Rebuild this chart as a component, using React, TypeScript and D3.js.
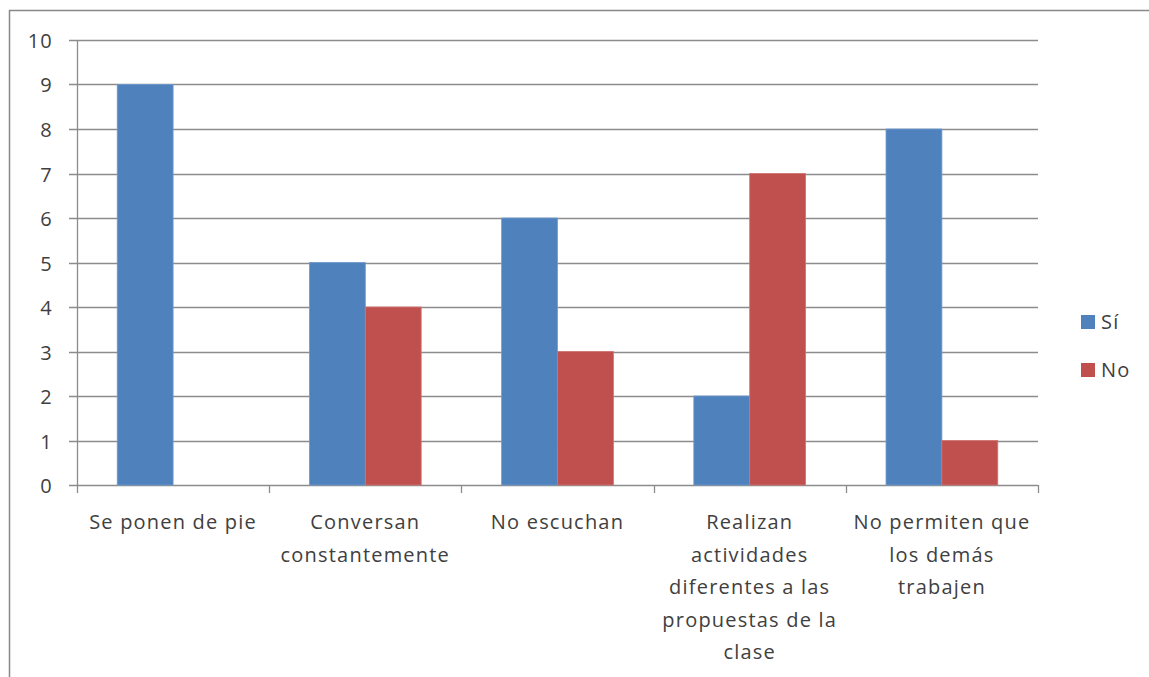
import { scaleBand, scaleLinear } from "d3";
import type { ReactElement } from "react";

const categories = ["Se ponen de pie", "Conversan constantemente", "No escuchan", "Realizan actividades", "No permiten que"];
const categoryLines: ReadonlyArray<ReadonlyArray<string>> = [
  ["Se ponen de pie"],
  ["Conversan", "constantemente"],
  ["No escuchan"],
  ["Realizan", "actividades", "diferentes a las", "propuestas de la", "clase"],
  ["No permiten que", "los demás", "trabajen"],
];
const seriesNames = ["Sí", "No"];
const siValues = [9, 5, 6, 2, 8];
const noValues = [0, 4, 3, 7, 1];
const yTickValues = [0, 1, 2, 3, 4, 5, 6, 7, 8, 9, 10];
const colors = ["#4F81BD", "#C0504D"];

const width = 1149;
const height = 677;
const plot = { left: 77, right: 1038, top: 40, bottom: 485 } as const;
const font = "'Open Sans', sans-serif";
const fontSize = 20;
const spacing = 1.2;
const textColor = "#404040";
const gridColor = "#8c8c8c";

export default function App(): ReactElement {
  const xScale = scaleBand<string>().domain(categories).range([plot.left, plot.right]);
  const inner = scaleBand<string>()
    .domain(seriesNames)
    .range([0, xScale.bandwidth()])
    .paddingOuter(0.72)
    .paddingInner(0);
  const yScale = scaleLinear().domain([0, 10]).range([plot.bottom, plot.top]);
  const values = [siValues, noValues];

  const boundaries = [...categories.map((c) => xScale(c) ?? 0), plot.right];

  return (
    <svg
      width={width}
      height={height}
      viewBox={`0 0 ${width} ${height}`}
      style={{ position: "absolute", left: 0, top: 0, background: "#fff" }}
    >
      <rect x={9.5} y={10.5} width={1200} height={700} fill="#fff" stroke="#888" strokeWidth={1.5} />

      {yTickValues.map((t) => {
        const y = Math.round(yScale(t)) + 0.5;
        return (
          <g key={`y-${t}`}>
            <line x1={plot.left - 8} x2={plot.right} y1={y} y2={y} stroke={gridColor} strokeWidth={1.3} />
            <text
              x={53}
              y={y + 7}
              textAnchor="end"
              fontFamily={font}
              fontSize={fontSize}
              letterSpacing={spacing}
              fill={textColor}
            >
              {t}
            </text>
          </g>
        );
      })}

      <line x1={plot.left + 0.5} x2={plot.left + 0.5} y1={plot.top} y2={plot.bottom + 1} stroke={gridColor} strokeWidth={1.3} />

      {boundaries.map((b, i) => (
        <line
          key={`xt-${i}`}
          x1={Math.round(b) + 0.5}
          x2={Math.round(b) + 0.5}
          y1={plot.bottom}
          y2={plot.bottom + 8}
          stroke={gridColor}
          strokeWidth={1.3}
        />
      ))}

      {categories.map((cat, ci) => (
        <g key={`bars-${cat}`} transform={`translate(${xScale(cat) ?? 0},0)`}>
          {seriesNames.map((s, si) => {
            const v = values[si][ci];
            if (v === 0) return null;
            const y = yScale(v);
            return (
              <rect
                key={`${cat}-${s}`}
                x={inner(s) ?? 0}
                y={y}
                width={inner.bandwidth()}
                height={plot.bottom - y}
                fill={colors[si]}
                stroke={si === 0 ? "#6f9bd0" : "#d07370"}
                strokeWidth={0.8}
              />
            );
          })}
        </g>
      ))}

      {categories.map((cat, ci) => {
        const cx = (xScale(cat) ?? 0) + xScale.bandwidth() / 2;
        return (
          <text
            key={`lbl-${cat}`}
            fontFamily={font}
            fontSize={fontSize}
            letterSpacing={spacing}
            fill={textColor}
            textAnchor="middle"
          >
            {categoryLines[ci].map((ln, li) => (
              <tspan key={li} x={cx} y={529 + li * 32.5}>
                {ln}
              </tspan>
            ))}
          </text>
        );
      })}

      {seriesNames.map((s, si) => {
        const cy = 322 + si * 48;
        return (
          <g key={`leg-${s}`}>
            <rect x={1081} y={cy - 7} width={14} height={14} fill={colors[si]} />
            <text
              x={1101}
              y={cy + 7}
              fontFamily={font}
              fontSize={fontSize}
              letterSpacing={spacing}
              fill={textColor}
            >
              {s}
            </text>
          </g>
        );
      })}
    </svg>
  );
}
